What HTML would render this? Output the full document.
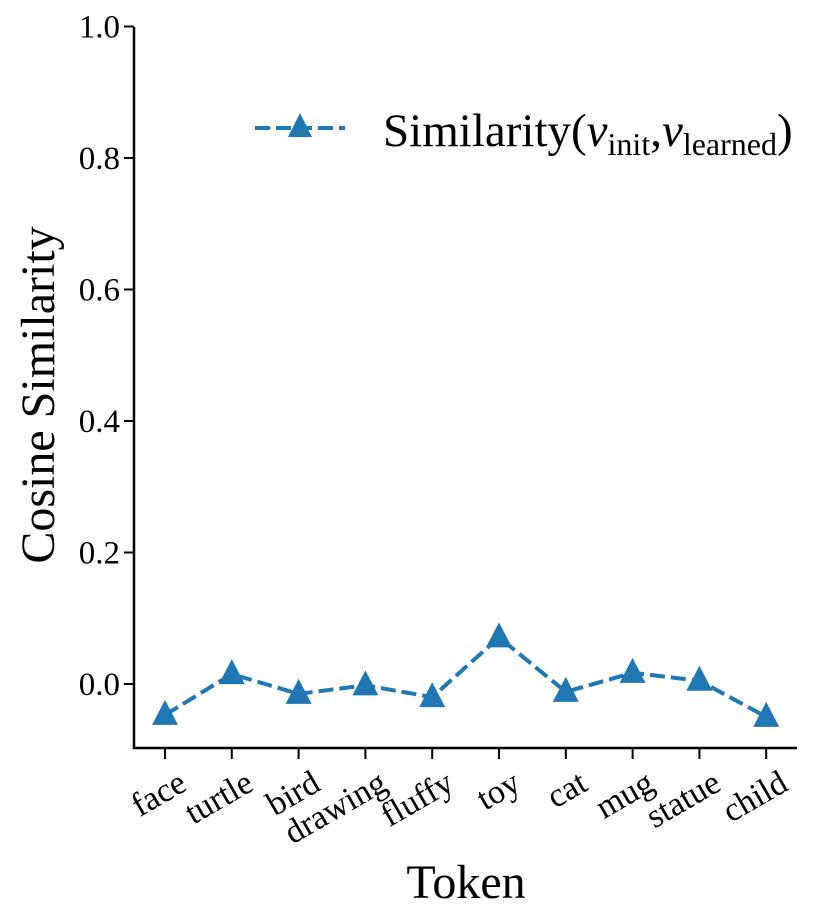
<!DOCTYPE html>
<html><head><meta charset="utf-8"><style>
body{margin:0;background:#fff}
svg{display:block;font-family:"Liberation Serif",serif}
</style></head><body>
<svg id="chart" width="831" height="924" viewBox="0 0 831 924" xmlns="http://www.w3.org/2000/svg">
<g id="axes"></g>
<g id="series"></g>
<text x="466" y="898" font-size="48" text-anchor="middle">Token</text>
<text transform="translate(54,395) rotate(-90)" font-size="48" text-anchor="middle">Cosine Similarity</text>
<g>
<line x1="255" y1="128" x2="345" y2="128" stroke="#1f77b4" stroke-width="4" stroke-dasharray="15,6"/>
<polygon points="300,113 288,137 312,137" fill="#1f77b4"/>
<text x="383" y="146" font-size="47">Similarity(<tspan font-style="italic">v</tspan><tspan font-size="32" dy="9">init</tspan><tspan dy="-9">,</tspan><tspan font-style="italic">v</tspan><tspan font-size="32" dy="9">learned</tspan><tspan dy="-9">)</tspan></text>
</g>
</svg>
<script>
const categories=["face","turtle","bird","drawing","fluffy","toy","cat","mug","statue","child"];
const values=[-0.047,0.015,-0.015,-0.002,-0.02,0.071,-0.012,0.017,0.005,-0.05];
const yTicks=[0.0,0.2,0.4,0.6,0.8,1.0];
const NS="http://www.w3.org/2000/svg";
const x0=134,yTop=27,yBot=748,xR=797;
function xPos(i){return 165+i*66.8;}
function yPos(v){return 684-v*657.5;}
function mk(tag,attrs,parent){const e=document.createElementNS(NS,tag);for(const k in attrs)e.setAttribute(k,attrs[k]);parent.appendChild(e);return e;}
const ax=document.getElementById('axes');
let sp=mk('line',{x1:x0,y1:yTop,x2:x0,y2:yBot+1,stroke:'#000','stroke-width':2.5},ax);


sp=mk('line',{x1:x0-1,y1:yBot,x2:xR,y2:yBot,stroke:'#000','stroke-width':2.5},ax);


yTicks.forEach(t=>{
 const y=yPos(t);
 mk('line',{x1:x0-10,y1:y,x2:x0,y2:y,stroke:'#000','stroke-width':2},ax);
 const tx=mk('text',{x:x0-14,y:y+11,'font-size':33,'text-anchor':'end'},ax);
 tx.textContent=t.toFixed(1);
 
 
});
categories.forEach((c,i)=>{
 const x=xPos(i);
 mk('line',{x1:x,y1:yBot,x2:x,y2:yBot+11,stroke:'#000','stroke-width':2},ax);
 const tx=mk('text',{transform:`translate(${x+12},${yBot+21}) rotate(-30)`,'font-size':34,'text-anchor':'end','dominant-baseline':'hanging'},ax);
 tx.textContent=c;
 
 
});
const s=document.getElementById('series');
const pts=values.map((v,i)=>xPos(i)+','+yPos(v)).join(' ');
const ln=mk('polyline',{points:pts,fill:'none',stroke:'#1f77b4','stroke-width':4,'stroke-dasharray':'15,6'},s);


values.forEach((v,i)=>{
 const x=xPos(i),y=yPos(v);
 const p=mk('polygon',{points:`${x},${y-15} ${x-13},${y+10} ${x+13},${y+10}`,fill:'#1f77b4'},s);
 
 
});
</script>
</body></html>
